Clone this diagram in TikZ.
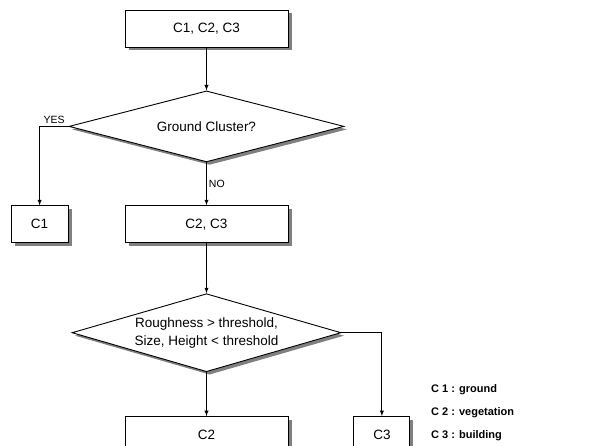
\documentclass[tikz,border=0pt]{standalone}
\usepackage{fontspec}
\setmainfont{Liberation Sans}
\usetikzlibrary{arrows,positioning,shapes.geometric,shadows}
\tikzset{
    %Define standard arrow tip
    >=latex,
    %Define style for boxes
    punktbox/.style={
           rectangle,
           draw=black, line width=0.9pt,
           fill=white,
           minimum width=163pt,
           minimum height=37pt,
           inner sep=0pt,
           font=\fontsize{13.5}{16}\selectfont,
           drop shadow={shadow xshift=3.5pt, shadow yshift=-3.5pt, fill=gray, opacity=1},
           text centered},
    punktask/.style={
           diamond,
           draw=black, line width=0.9pt,
           fill=white,
           inner sep=0pt,
           align=center,
           font=\fontsize{13.5}{18}\selectfont,
           drop shadow={shadow xshift=3pt, shadow yshift=-3pt, fill=gray, opacity=1}},
    % Define arrow style
    pil/.style={
           ->,
           line width=0.9pt},
    tagg/.style={font=\fontsize{10.5}{12}\selectfont, inner sep=2pt},
    legende/.style={font=\bfseries\fontsize{11}{13}\selectfont, anchor=west, inner sep=0pt}
}
\begin{document}
\begin{tikzpicture}[x=1pt,y=-1pt]
\path[use as bounding box, clip] (0,0) rectangle (604,446);
 %nodes
\node[punktbox] (alle) at (206.5,28.5) {C1, C2, C3};
\node[punktask, aspect=3.87, minimum width=275pt, minimum height=71pt, below=43pt of alle] (bakke) {Ground Cluster?};
\node[punktbox, below=43pt of bakke] (rest) {C2, C3};
\node[punktbox, minimum width=57pt, left=56pt of rest] (c1) {C1};
\node[punktask, aspect=3.45, minimum width=269pt, minimum height=78pt, below=50pt of rest] (ru) {Roughness > threshold,\\Size, Height < threshold};
\node[punktbox, below=44pt of ru] (c2) {C2};
\node[punktbox, minimum width=56pt, right=65pt of c2] (c3) {C3};

 %legend
\node[legende] (l1) at (431,390) {C 1 : ground};
\node[legende, below=23pt of l1.west, anchor=west] (l2) {C 2 : vegetation};
\node[legende, below=23pt of l2.west, anchor=west] (l3) {C 3 : building};

 %arrows
\draw[pil] (alle) -- (bakke);
\draw[pil] (bakke) -- node[tagg, right] {NO} (rest);
\draw[pil] (bakke.west) -| node[tagg, pos=0.25, above] {YES} (c1);
\draw[pil] (rest) -- (ru);
\draw[pil] (ru) -- (c2);
\draw[pil] (ru.east) -| (c3);
\end{tikzpicture}
\end{document}
